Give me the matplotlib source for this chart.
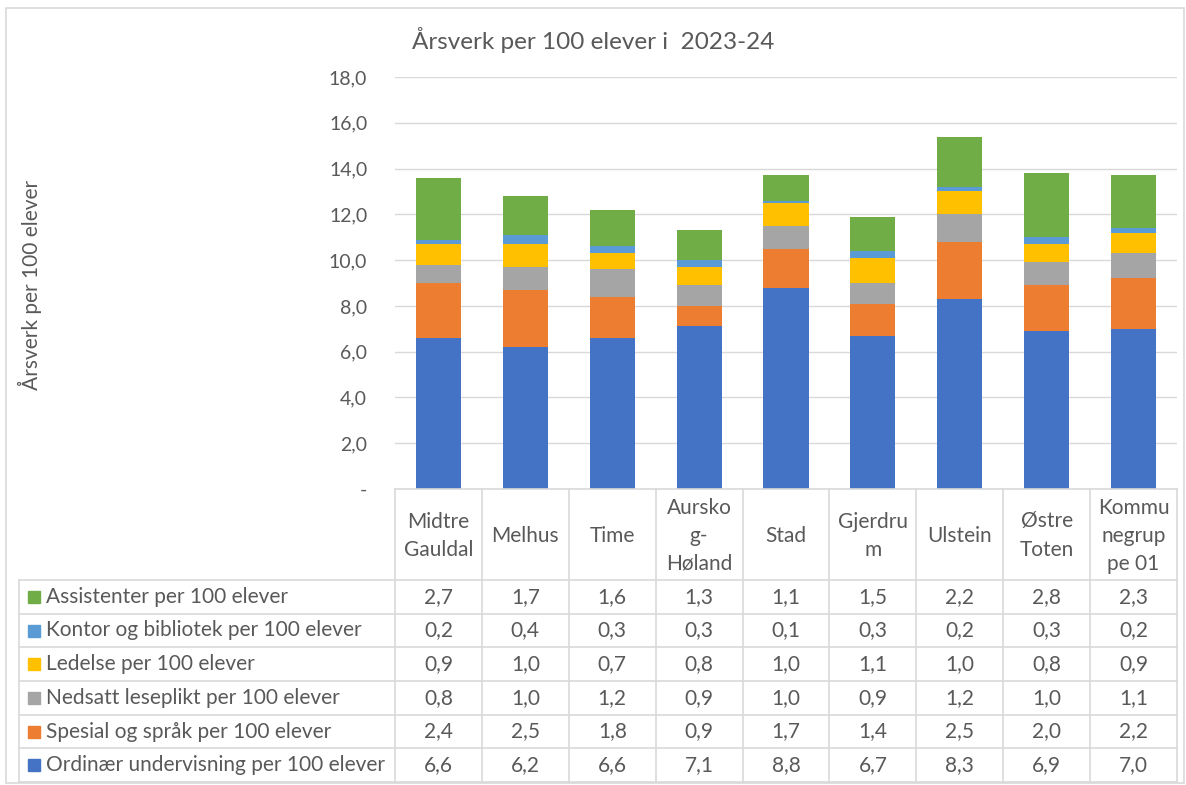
import matplotlib.pyplot as plt
from matplotlib.patches import Rectangle

plt.rcParams['font.family'] = ['Lato', 'DejaVu Sans']

kommuner = ['Midtre\nGauldal', 'Melhus', 'Time', 'Aursko\ng-\nHøland', 'Stad',
            'Gjerdru\nm', 'Ulstein', 'Østre\nToten', 'Kommu\nnegrup\npe 01']

ordinaer = [6.6, 6.2, 6.6, 7.1, 8.8, 6.7, 8.3, 6.9, 7.0]
spesial = [2.4, 2.5, 1.8, 0.9, 1.7, 1.4, 2.5, 2.0, 2.2]
nedsatt = [0.8, 1.0, 1.2, 0.9, 1.0, 0.9, 1.2, 1.0, 1.1]
ledelse = [0.9, 1.0, 0.7, 0.8, 1.0, 1.1, 1.0, 0.8, 0.9]
kontor = [0.2, 0.4, 0.3, 0.3, 0.1, 0.3, 0.2, 0.3, 0.2]
assistenter = [2.7, 1.7, 1.6, 1.3, 1.1, 1.5, 2.2, 2.8, 2.3]

serier = [
    ('Ordinær undervisning per 100 elever', ordinaer, '#4472C4'),
    ('Spesial og språk per 100 elever', spesial, '#ED7D31'),
    ('Nedsatt leseplikt per 100 elever', nedsatt, '#A5A5A5'),
    ('Ledelse per 100 elever', ledelse, '#FFC000'),
    ('Kontor og bibliotek per 100 elever', kontor, '#5B9BD5'),
    ('Assistenter per 100 elever', assistenter, '#70AD47'),
]

W, H = 1186, 785
tekst = '#595959'
linje = '#d9d9d9'
fs = 15

fig = plt.figure(figsize=(W / 100, H / 100), dpi=100)

# plot area in pixels
x0, x1 = 395, 1177
ytop, ybot = 77, 489
ax = fig.add_axes([x0 / W, 1 - ybot / H, (x1 - x0) / W, (ybot - ytop) / H])
n = len(kommuner)
pos = list(range(n))
bunn = [0.0] * n
for navn, verdier, farge in serier:
    ax.bar(pos, verdier, bottom=bunn, width=0.52, color=farge, label=navn)
    bunn = [b + v for b, v in zip(bunn, verdier)]
ax.set_xlim(-0.5, n - 0.5)
ax.set_ylim(0, 18)
ax.set_yticks(range(0, 19, 2))
ax.set_yticklabels(['-'] + [f'{v:.1f}'.replace('.', ',') for v in range(2, 19, 2)])
ax.tick_params(axis='y', length=0, labelsize=14, labelcolor=tekst, pad=20)
ax.set_xticks([])
ax.grid(axis='y', color=linje, linewidth=1)
ax.set_axisbelow(True)
for s in ax.spines.values():
    s.set_visible(False)

# overlay in pixel coordinates for title, table and frame
ov = fig.add_axes([0, 0, 1, 1])
ov.set_xlim(0, W)
ov.set_ylim(H, 0)
ov.axis('off')
ov.patch.set_alpha(0)

ov.add_patch(Rectangle((6, 8), W - 8, H - 10, fill=False, edgecolor=linje, lw=1.2))
ov.text(593, 40, 'Årsverk per 100 elever i  2023-24', ha='center', va='center',
        fontsize=17.5, color=tekst)
ov.text(30, 285, 'Årsverk per 100 elever', rotation=90, ha='center', va='center',
        fontsize=fs, color=tekst)

cw = (x1 - x0) / n
hdr_bot = 580
rh = (782 - hdr_bot) / len(serier)
lx = 19

# grid of table
ov.plot([x0, x1], [ybot, ybot], color=linje, lw=1.2)
for i in range(n + 1):
    ov.plot([x0 + i * cw] * 2, [ybot, 782], color=linje, lw=1.2)
for r in range(len(serier) + 1):
    ov.plot([lx, x1], [hdr_bot + r * rh] * 2, color=linje, lw=1.2)
ov.plot([lx, lx], [hdr_bot, 782], color=linje, lw=1.2)

for i, k in enumerate(kommuner):
    ov.text(x0 + (i + 0.5) * cw, (ybot + hdr_bot) / 2 + 1, k, ha='center', va='center',
            fontsize=fs, color=tekst, linespacing=1.5)

for r, (navn, verdier, farge) in enumerate(reversed(serier)):
    yc = hdr_bot + (r + 0.5) * rh
    ov.add_patch(Rectangle((28, yc - 6), 12, 12, color=farge))
    ov.text(46, yc, navn, ha='left', va='center', fontsize=fs, color=tekst)
    for i, v in enumerate(verdier):
        ov.text(x0 + (i + 0.5) * cw, yc, f'{v:.1f}'.replace('.', ','), ha='center',
                va='center', fontsize=fs, color=tekst)

fig.savefig('out.png', dpi=100)
